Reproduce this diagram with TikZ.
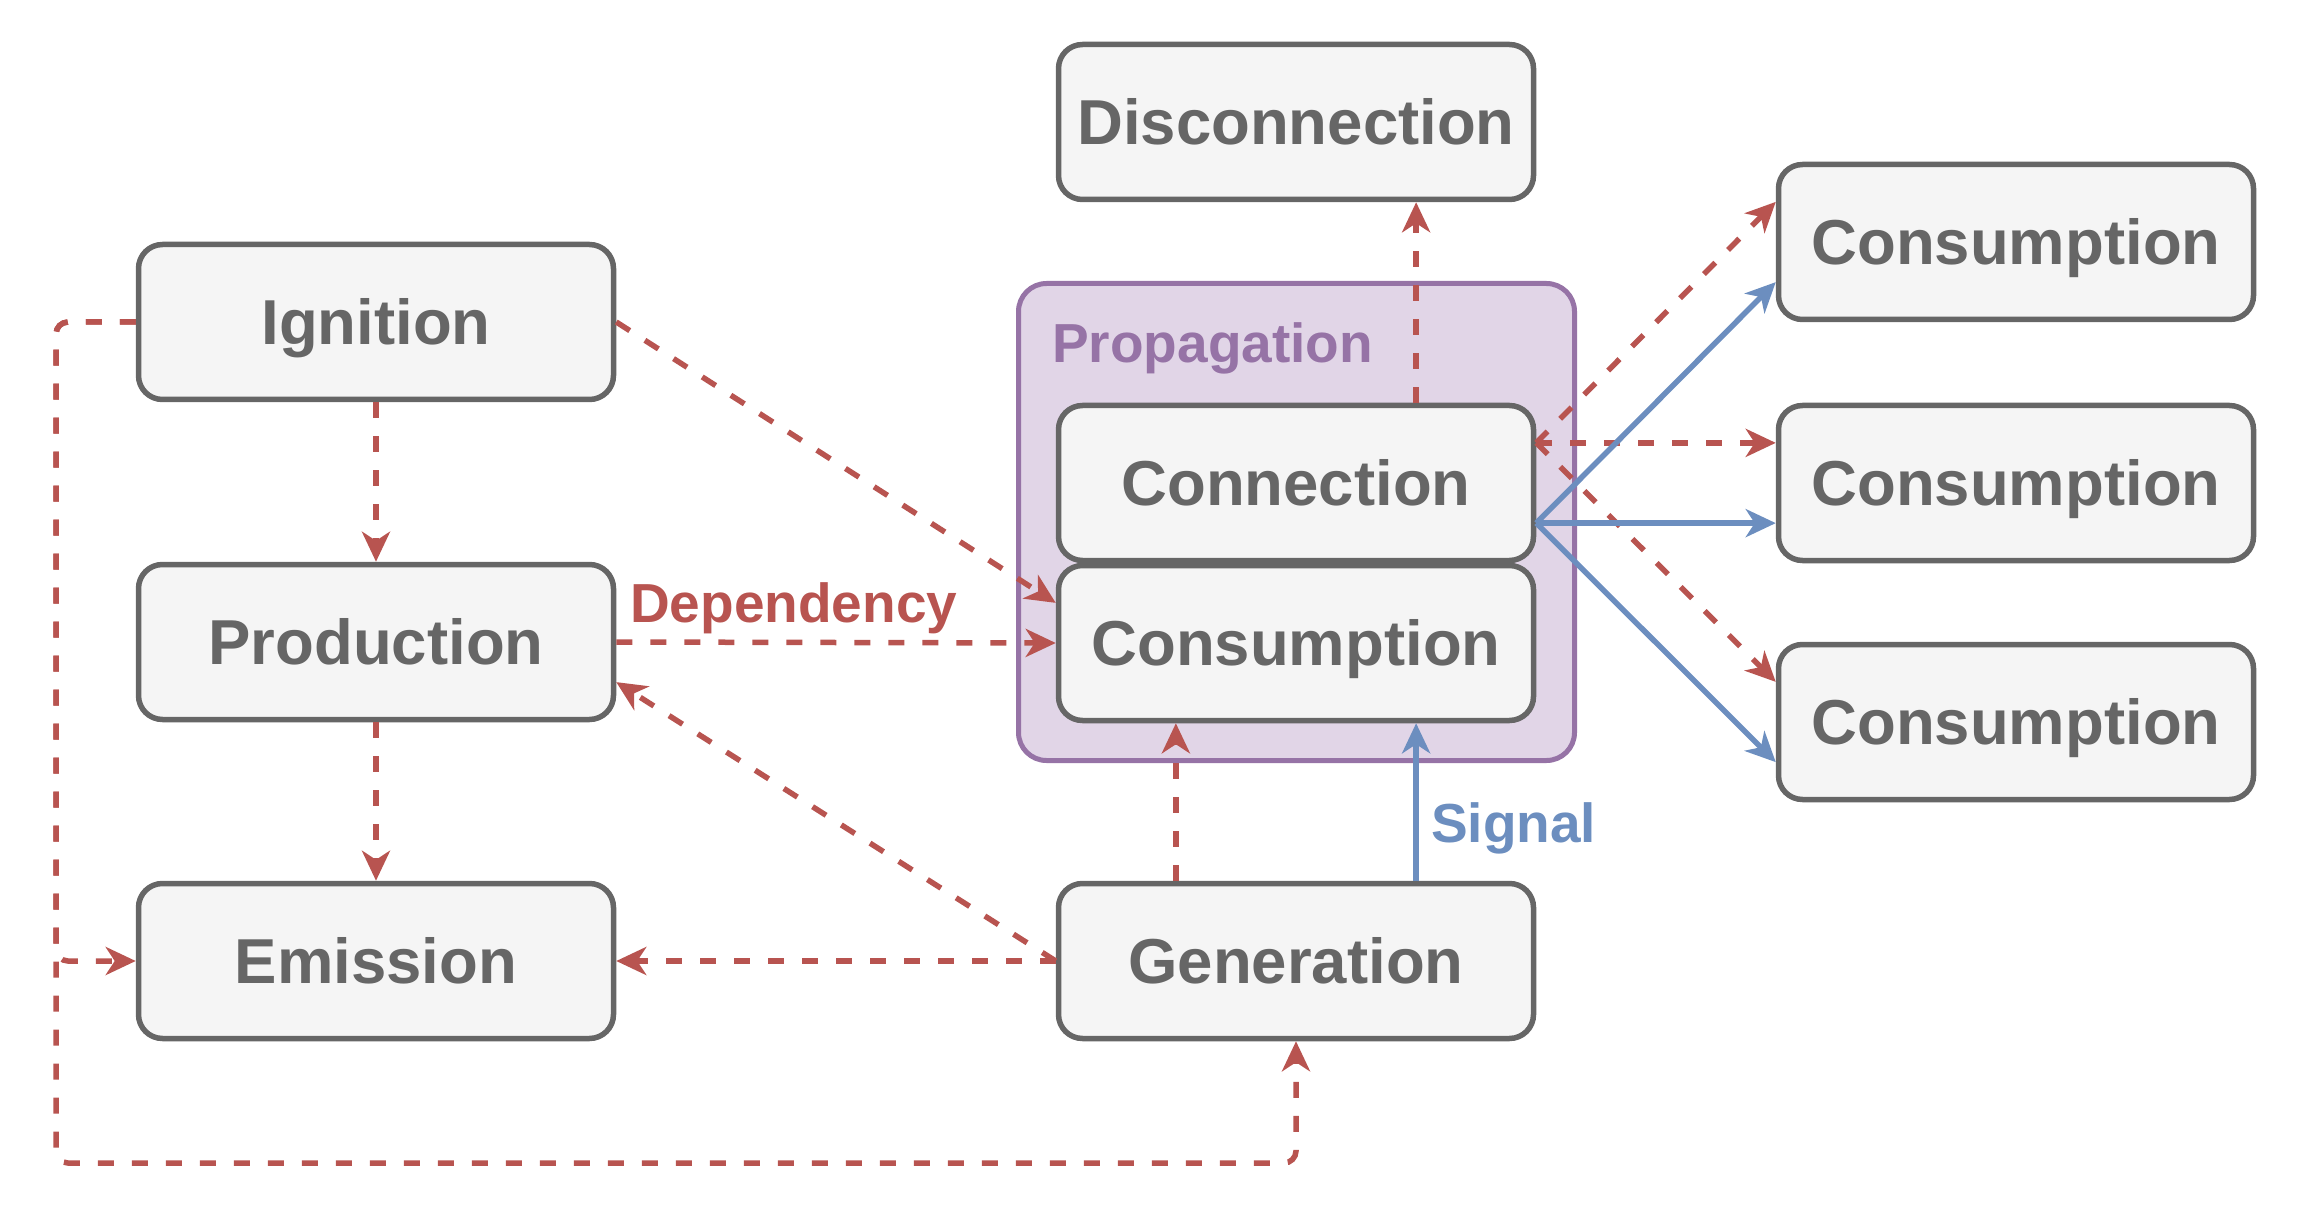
\documentclass[tikz,border=0pt]{standalone}
\usepackage{fontspec}
\setmainfont{Liberation Sans}
\usetikzlibrary{arrows.meta,calc}
\definecolor{boxfill}{HTML}{F5F5F5}
\definecolor{boxline}{HTML}{666666}
\definecolor{depred}{HTML}{B85450}
\definecolor{sigblue}{HTML}{6C8EBF}
\definecolor{propfill}{HTML}{E1D5E7}
\definecolor{propline}{HTML}{9673A6}
\tikzset{
  box/.style={draw=boxline, fill=boxfill, line width=5.5pt, rounded corners=24pt,
    minimum width=475pt, minimum height=155pt, inner sep=0pt, text=boxline,
    font=\bfseries\fontsize{63.5pt}{70pt}\selectfont, text height=45pt, text depth=0pt},
  tipstyle/.style={-{Stealth[length=30pt,width=28pt,inset=9pt]}},
  dep/.style={draw=depred, line width=5.5pt, dash pattern=on 16pt off 18pt, tipstyle},
  sig/.style={draw=sigblue, line width=5.5pt, tipstyle},
  lbl/.style={inner sep=0pt, font=\bfseries\fontsize{55pt}{60pt}\selectfont, anchor=base west}
}
\begin{document}
\begin{tikzpicture}[x=1pt,y=-1pt]
\useasboundingbox (0,0) rectangle (2300,1222);
% container
\node (prop) [draw=propline, fill=propfill, line width=5pt, rounded corners=28pt,
  minimum width=556pt, minimum height=477pt, inner sep=0pt] at (1296.5,522) {};
\node (proplbl) [lbl, text=propline] at (1052,363) {Propagation};
% nodes
\node (ign)  [box] at (376,322) {Ignition};
\node (prod) [box] at (376,642) {Production};
\node (emi)  [box] at (376,961) {Emission};
\node (gen)  [box] at (1296,961) {Generation};
\node (conn) [box] at (1296,483) {Connection};
\node (cons) [box] at (1296,643) {Consumption};
\node (disc) [box] at (1296,122) {Disconnection};
\node (ca)   [box] at (2016,242) {Consumption};
\node (cb)   [box] at (2016,483) {Consumption};
\node (cc)   [box] at (2016,722) {Consumption};
% labels
\node (deplbl) [lbl, text=depred] at (630,622) {Dependency};
\node (siglbl) [lbl, text=sigblue] at (1431,842) {Signal};
% helper coordinates
\coordinate (loopTL) at (56,322);
\coordinate (loopBL) at (56,1163);
\coordinate (loopBR) at (1296,1163);
\coordinate (loopE) at (56,961);
% dependency edges
\draw[dep] (ign) -- (prod);
\draw[dep] (prod) -- (emi);
\draw[dep] (ign.east) -- ($(cons.north west)!0.25!(cons.south west)$);
\draw[dep] (prod.east) -- (cons.west);
\draw[dep] (gen.west) -- ($(prod.north east)!0.75!(prod.south east)$);
\draw[dep] (gen.west) -- (emi.east);
\draw[dep] ($(gen.north west)!0.25!(gen.north east)$) -- ($(cons.south west)!0.25!(cons.south east)$);
\draw[dep] ($(conn.north west)!0.75!(conn.north east)$) -- ($(disc.south west)!0.75!(disc.south east)$);
\draw[dep] ($(conn.north east)!0.25!(conn.south east)$) -- ($(ca.north west)!0.25!(ca.south west)$);
\draw[dep] ($(conn.north east)!0.25!(conn.south east)$) -- ($(cb.north west)!0.25!(cb.south west)$);
\draw[dep] ($(conn.north east)!0.25!(conn.south east)$) -- ($(cc.north west)!0.25!(cc.south west)$);
\draw[dep, rounded corners=12pt] (ign.west) -- (loopTL) -- (loopBL) -- (loopBR) -- (gen.south);
\draw[dep, rounded corners=12pt] (ign.west) -- (loopTL) -- (loopE) -- (emi.west);
% signal edges
\draw[sig] ($(gen.north west)!0.75!(gen.north east)$) -- ($(cons.south west)!0.75!(cons.south east)$);
\draw[sig] ($(conn.north east)!0.75!(conn.south east)$) -- ($(ca.north west)!0.75!(ca.south west)$);
\draw[sig] ($(conn.north east)!0.75!(conn.south east)$) -- ($(cb.north west)!0.75!(cb.south west)$);
\draw[sig] ($(conn.north east)!0.75!(conn.south east)$) -- ($(cc.north west)!0.75!(cc.south west)$);
\end{tikzpicture}
\end{document}
